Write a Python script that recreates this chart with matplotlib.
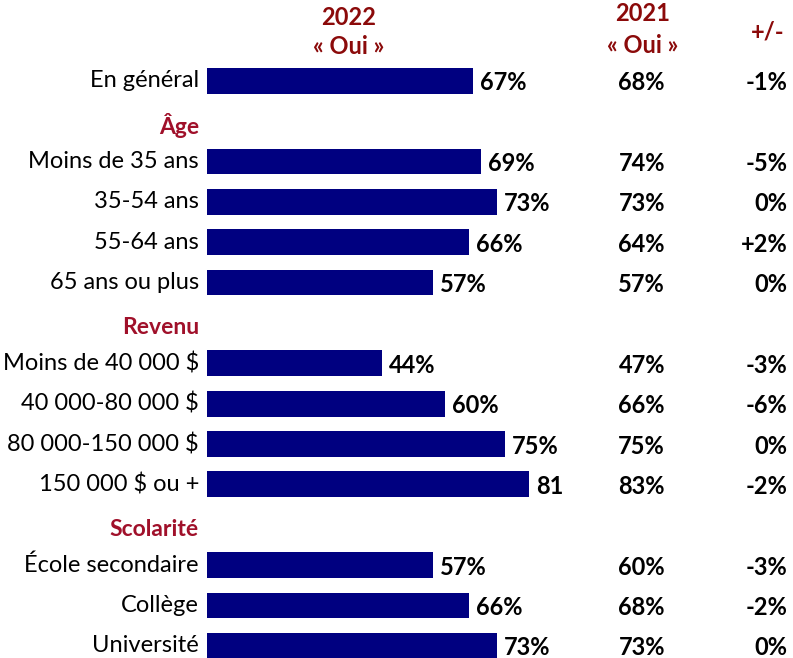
import matplotlib.pyplot as plt

plt.rcParams["font.family"] = ["Lato", "DejaVu Sans"]

# rows top to bottom; None value = section header
labels = ["En général", "Âge", "Moins de 35 ans", "35-54 ans", "55-64 ans", "65 ans ou plus",
          "Revenu", "Moins de 40 000 $", "40 000-80 000 $", "80 000-150 000 $", "150 000 $ ou +",
          "Scolarité", "École secondaire", "Collège", "Université"]
vals_2022 = [67, None, 69, 73, 66, 57, None, 44, 60, 75, 81, None, 57, 66, 73]
text_2022 = ["67%", "", "69%", "73%", "66%", "57%", "", "44%", "60%", "75%", "81", "", "57%", "66%", "73%"]
text_2021 = ["68%", "", "74%", "73%", "64%", "57%", "", "47%", "66%", "75%", "83%", "", "60%", "68%", "73%"]
text_diff = ["-1%", "", "-5%", "0%", "+2%", "0%", "", "-3%", "-6%", "0%", "-2%", "", "-3%", "-2%", "0%"]

navy = "#000080"
head_red = "#8B0A0A"
sect_red = "#A0102A"

fig = plt.figure(figsize=(7.93, 6.58), dpi=100)
ax = fig.add_axes([0, 0, 1, 1])
ax.set_xlim(-52.1, 147.6)
ax.set_ylim(14.3, -2.0)
ax.axis("off")

fs = 17
for i, lab in enumerate(labels):
    v = vals_2022[i]
    if v is None:
        ax.text(-2.0, i + 0.12, lab, ha="right", va="center", fontsize=fs - 0.5,
                fontweight="bold", color=sect_red)
        continue
    ax.barh(i, v, height=0.64, color=navy, left=0)
    ax.text(-2.0, i, lab, ha="right", va="center", fontsize=fs, color="black")
    ax.text(v + 1.8, i + 0.05, text_2022[i], ha="left", va="center", fontsize=fs,
            fontweight="bold", color="black")
    ax.text(109.5, i + 0.05, text_2021[i], ha="center", va="center", fontsize=fs,
            fontweight="bold", color="black")
    ax.text(146.2, i + 0.05, text_diff[i], ha="right", va="center", fontsize=fs,
            fontweight="bold", color="black")

# column headers
ax.text(35.8, -1.56, "2022", ha="center", va="center", fontsize=fs, fontweight="bold", color=head_red)
ax.text(35.8, -0.84, "« Oui »", ha="center", va="center", fontsize=fs, fontweight="bold", color=head_red)
ax.text(109.8, -1.66, "2021", ha="center", va="center", fontsize=fs, fontweight="bold", color=head_red)
ax.text(109.8, -0.87, "« Oui »", ha="center", va="center", fontsize=fs, fontweight="bold", color=head_red)
ax.text(141.3, -1.21, "+/-", ha="center", va="center", fontsize=fs, fontweight="bold", color=head_red)

fig.savefig("out.png", dpi=100)
